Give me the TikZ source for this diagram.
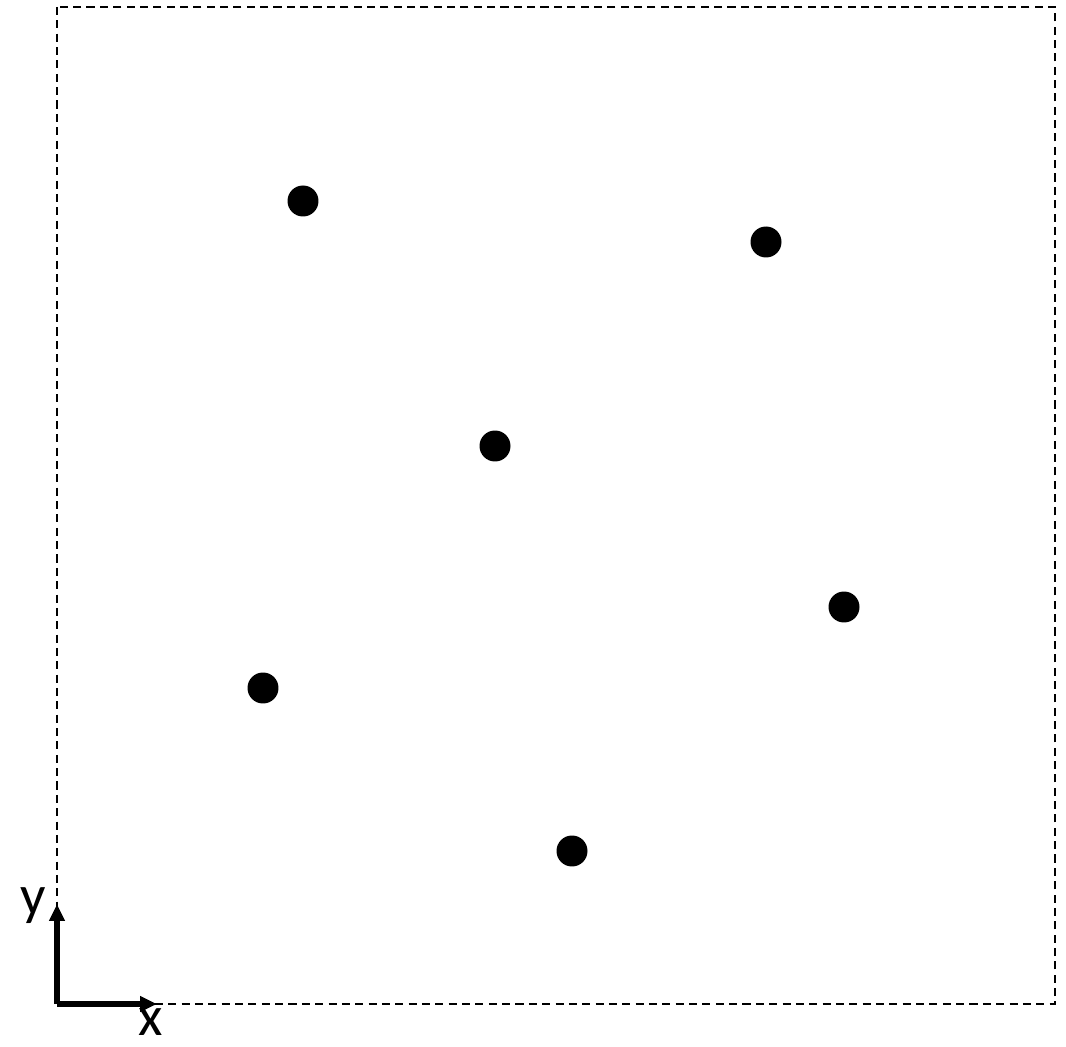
\documentclass[tikz,border=0pt]{standalone}
\usepackage{fontspec}
\setmainfont{Carlito}
\usetikzlibrary{positioning, arrows.meta}

\begin{document}
\begin{tikzpicture}[x=0.02cm, y=-0.02cm,
    frame/.style={line width=1.6pt, dash pattern=on 4.6pt off 3pt},
    axis/.style={line width=3.4pt, -{Triangle[length=0.34cm, width=0.3cm]}},
    pt/.style={circle, fill=black, inner sep=0pt, minimum size=0.62cm},
    lbl/.style={font=\fontsize{32}{36}\selectfont}]
        \useasboundingbox (0,0) rectangle (1066,1047);

        % Region
        \draw[frame] (57,7) rectangle (1055,1004);

        % Points
        \node[pt] (p1) at (303,201) {};
        \node[pt] (p2) at (766,242) {};
        \node[pt] (p3) at (495,446) {};
        \node[pt] (p4) at (844,607) {};
        \node[pt] (p5) at (263,688) {};
        \node[pt] (p6) at (572,851) {};

        % Axes
        \coordinate (o) at (57,1004);
        \coordinate (xend) at (157,1004);
        \coordinate (yend) at (57,904);
        \draw[axis] (o) -- (xend);
        \draw[axis] (o) -- (yend);
        \node[lbl] (xl) at (151,1022) {x};
        \node[lbl] (yl) at (33,906) {y};
      \end{tikzpicture}
\end{document}
